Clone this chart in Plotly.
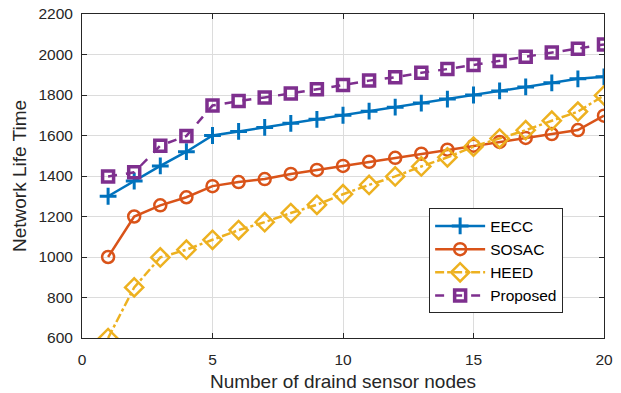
import plotly.graph_objects as go

x = list(range(1, 21))
eecc = [1300, 1375, 1450, 1520, 1600, 1620, 1640, 1660, 1680, 1700,
        1720, 1740, 1760, 1780, 1800, 1820, 1840, 1860, 1880, 1890]
sosac = [1000, 1200, 1255, 1295, 1350, 1370, 1385, 1410, 1430, 1450,
         1470, 1490, 1510, 1530, 1550, 1568, 1588, 1607, 1627, 1698]
heed = [600, 850, 998, 1036, 1085, 1133, 1172, 1217, 1258, 1310,
        1356, 1398, 1447, 1492, 1545, 1585, 1626, 1673, 1718, 1798]
proposed = [1398, 1418, 1550, 1598, 1748, 1770, 1788, 1807, 1828, 1849,
            1871, 1888, 1910, 1928, 1948, 1968, 1989, 2010, 2029, 2050]

names = ["EECC", "SOSAC", "HEED", "Proposed"]
colors = ["#0072BD", "#D95319", "#EDB120", "#7E2F8E"]
symbols = ["cross-thin", "circle-open", "diamond-open", "square-open"]
dashes = ["solid", "solid", "dashdot", "dash"]
sizes = [12, 12, 14, 11]
mlw = [3, 2.5, 2.5, 3.5]
series = [eecc, sosac, heed, proposed]

fig = go.Figure()
for n, c, s, d, sz, lw, y in zip(names, colors, symbols, dashes, sizes, mlw, series):
    fig.add_trace(go.Scatter(
        x=x, y=y, name=n, mode="lines+markers",
        line=dict(color=c, width=2.5, dash=d),
        marker=dict(symbol=s, size=sz, color=c, line=dict(color=c, width=lw)),
    ))

font = "Liberation Sans, Arial, sans-serif"
fig.update_layout(
    width=621, height=393,
    margin=dict(l=82, r=17, t=14, b=55),
    paper_bgcolor="white", plot_bgcolor="white",
    font=dict(family=font, size=15.5, color="#262626"),
    showlegend=True,
    legend=dict(x=0.665, y=0.40, xanchor="left", yanchor="top",
                bordercolor="#262626", borderwidth=1, bgcolor="white",
                font=dict(size=15.5, color="black"), tracegroupgap=0,
                itemwidth=50),
)
fig.update_xaxes(
    range=[0, 20], tickvals=[0, 5, 10, 15, 20],
    showgrid=True, gridcolor="#DCDCDC", gridwidth=1,
    showline=True, linecolor="#262626", linewidth=1, mirror="ticks",
    ticks="inside", ticklen=5, tickcolor="#262626",
    ticklabelstandoff=7, automargin=False,
    zeroline=False,
    title=dict(text="Number of draind sensor nodes", font=dict(size=19), standoff=8),
)
fig.update_yaxes(
    range=[600, 2200], tickvals=list(range(600, 2201, 200)),
    showgrid=True, gridcolor="#DCDCDC", gridwidth=1,
    showline=True, linecolor="#262626", linewidth=1, mirror="ticks",
    ticks="inside", ticklen=5, tickcolor="#262626",
    ticklabelstandoff=5, automargin=False,
    zeroline=False,
    title=dict(text="Network Life Time", font=dict(size=19), standoff=6),
)

fig.write_html("out.html")
